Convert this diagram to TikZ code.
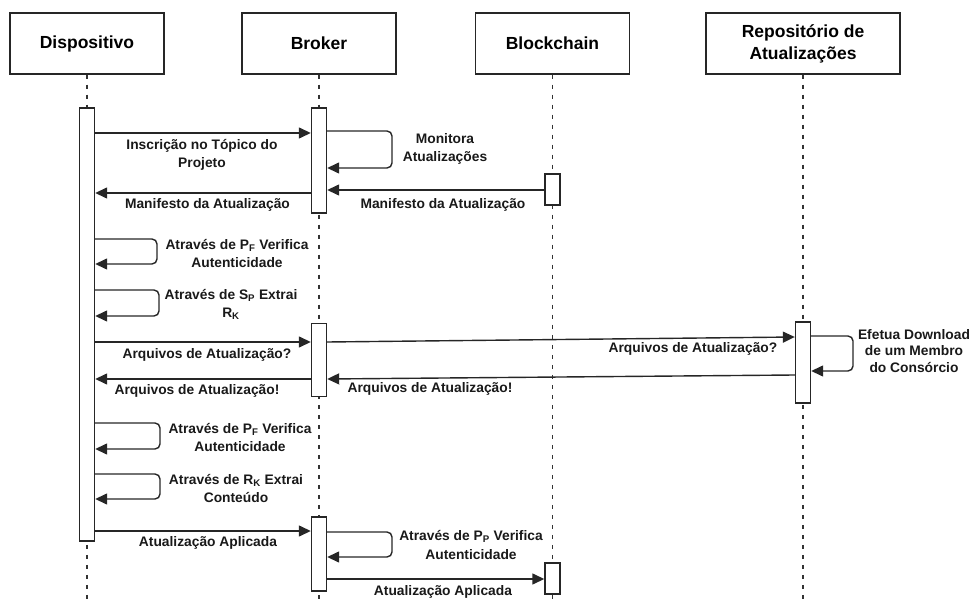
\documentclass[tikz,border=0pt]{standalone}
\usepackage{fontspec}
\setmainfont{Liberation Sans}
\usetikzlibrary{arrows.meta}
\begin{document}
\begin{tikzpicture}[x=1pt,y=-1pt,
  actor/.style={draw=black!85,line width=1.5pt,minimum width=154pt,minimum height=61pt,inner sep=0pt,align=center,
    font=\fontsize{17.5}{22}\selectfont\bfseries},
  actbar/.style={draw=black!85,line width=1.4pt,fill=white,minimum width=15pt,inner sep=0pt},
  life/.style={draw=black!80,line width=1.4pt,dash pattern=on 4.5pt off 5.5pt},
  msg/.style={draw=black!85,line width=1.4pt,-{Triangle[length=12pt,width=11pt]}},
  loopmsg/.style={msg,rounded corners=5pt},
  lbl/.style={inner sep=0pt,align=center,font=\fontsize{13.8}{18.5}\selectfont\bfseries,text=black!90}]
\useasboundingbox (0,0) rectangle (971,601);
% headers
\node[actor] (hD) at (87,43.5) {Dispositivo};
\node[actor] (hB) at (319,43.5) {Broker};
\node[actor] (hC) at (552.5,43.5) {Blockchain};
\node[actor,minimum width=194pt] (hR) at (803,43.5) {Repositório de\\Atualizações};
% lifelines
\coordinate (eD) at (87,601);
\coordinate (eB) at (319,601);
\coordinate (eC) at (552.5,601);
\coordinate (eR) at (803,601);
\draw[life] (hD.south) -- (eD);
\draw[life] (hB.south) -- (eB);
\draw[life] (hC.south) -- (eC);
\draw[life] (hR.south) -- (eR);
% activation bars
\node[actbar,minimum height=433pt] (aD) at (87,324.5) {};
\node[actbar,minimum height=105pt] (aB1) at (319,160.5) {};
\node[actbar,minimum height=73pt] (aB2) at (319,360) {};
\node[actbar,minimum height=74pt] (aB3) at (319,554) {};
\node[actbar,minimum height=31pt] (aC1) at (552.5,189.5) {};
\node[actbar,minimum height=31pt] (aC2) at (552.5,578.5) {};
\node[actbar,minimum height=81pt] (aR) at (803,362.5) {};
% messages
\draw[msg] (aD.east |- 0,133) -- (aB1.west |- 0,133);
\node[lbl] (l1) at (202,155) {Inscrição no Tópico do\\Projeto};
\draw[loopmsg] (aB1.east |- 0,131) -- (392,131) -- (392,168) -- (aB1.east |- 0,168);
\node[lbl] (l2) at (445,149) {Monitora\\Atualizações};
\draw[msg] (aC1.west |- 0,190) -- (aB1.east |- 0,190);
\node[lbl] (l3) at (443,205) {Manifesto da Atualização};
\draw[msg] (aB1.west |- 0,193) -- (aD.east |- 0,193);
\node[lbl] (l4) at (207.5,205) {Manifesto da Atualização};
\draw[loopmsg] (aD.east |- 0,239) -- (157,239) -- (157,264) -- (aD.east |- 0,264);
\node[lbl] (l5) at (237,253.5) {Através de P\textsubscript{F} Verifica\\Autenticidade};
\draw[loopmsg] (aD.east |- 0,290) -- (159,290) -- (159,316) -- (aD.east |- 0,316);
\node[lbl] (l6) at (231,304.5) {Através de S\textsubscript{P} Extrai\\R\textsubscript{K}};
\draw[msg] (aD.east |- 0,342) -- (aB2.west |- 0,342);
\node[lbl] (l7) at (207,355) {Arquivos de Atualização?};
\draw[msg] (aB2.east |- 0,342) -- (aR.west |- 0,337);
\node[lbl] (l8) at (693,349) {Arquivos de Atualização?};
\draw[loopmsg] (aR.east |- 0,336) -- (853,336) -- (853,371) -- (aR.east |- 0,371);
\node[lbl,font=\fontsize{13.8}{16.5}\selectfont\bfseries] (l9) at (914,351) {Efetua Download\\de um Membro\\do Consórcio};
\draw[msg] (aR.west |- 0,375) -- (aB2.east |- 0,379);
\node[lbl] (l10) at (430,389) {Arquivos de Atualização!};
\draw[msg] (aB2.west |- 0,379) -- (aD.east |- 0,379);
\node[lbl] (l11) at (197,391) {Arquivos de Atualização!};
\draw[loopmsg] (aD.east |- 0,423) -- (160,423) -- (160,449) -- (aD.east |- 0,449);
\node[lbl] (l12) at (240,437.5) {Através de P\textsubscript{F} Verifica\\Autenticidade};
\draw[loopmsg] (aD.east |- 0,474) -- (160,474) -- (160,499) -- (aD.east |- 0,499);
\node[lbl] (l13) at (236,488.5) {Através de R\textsubscript{K} Extrai\\Conteúdo};
\draw[msg] (aD.east |- 0,531) -- (aB3.west |- 0,531);
\node[lbl] (l14) at (208,543) {Atualização Aplicada};
\draw[loopmsg] (aB3.east |- 0,532) -- (392,532) -- (392,557) -- (aB3.east |- 0,557);
\node[lbl] (l15) at (471,545) {Através de P\textsubscript{P} Verifica\\Autenticidade};
\draw[msg] (aB3.east |- 0,579) -- (aC2.west |- 0,579);
\node[lbl] (l16) at (443,592) {Atualização Aplicada};
\end{tikzpicture}
\end{document}
